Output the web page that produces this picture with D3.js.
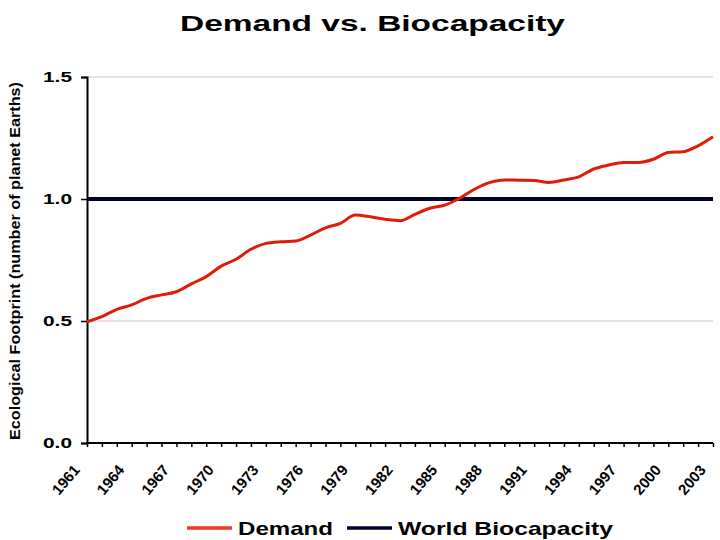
<!DOCTYPE html>
<html>
<head>
<meta charset="utf-8">
<script src="https://cdn.jsdelivr.net/npm/d3@7"></script>
<style>
  body { margin: 0; background: #fff; }
  text { font-family: "Liberation Sans", Arial, sans-serif; font-weight: bold; }
</style>
</head>
<body>
<script>
// data
var years = d3.range(1961, 2004);
var demand = [0.497, 0.518, 0.548, 0.566, 0.593, 0.607, 0.620, 0.652, 0.682, 0.725,
              0.753, 0.794, 0.818, 0.825, 0.828, 0.852, 0.882, 0.900, 0.934, 0.927,
              0.917, 0.911, 0.937, 0.962, 0.975, 1.003, 1.040, 1.067, 1.078, 1.077,
              1.076, 1.068, 1.078, 1.091, 1.123, 1.139, 1.150, 1.150, 1.163, 1.191,
              1.194, 1.218, 1.255];
var biocapacity = years.map(function(){ return 1.0; });
var yTicks = [0, 0.5, 1.0, 1.5];
var xLabels = d3.range(1961, 2004, 3);

var w = 720, h = 540;

var svg = d3.select("body").append("svg")
    .attr("width", w)
    .attr("height", h);

var x = d3.scalePoint()
    .domain(years)
    .range([87, 713]);

var y = d3.scaleLinear()
    .domain([0, 1.5])
    .range([443, 77]);

// title
svg.append("text")
    .attr("x", 180)
    .attr("y", 31)
    .attr("textLength", 385)
    .attr("lengthAdjust", "spacingAndGlyphs")
    .style("font-size", "22px")
    .text("Demand vs. Biocapacity");

// gridlines
svg.append("g")
    .selectAll("line")
    .data(yTicks.filter(function(d){ return d > 0; }))
    .enter()
    .append("line")
    .attr("x1", 87)
    .attr("x2", 713)
    .attr("y1", function(d){ return y(d); })
    .attr("y2", function(d){ return y(d); })
    .style("stroke", "#c8c8c8")
    .style("stroke-width", 1);

// y axis
var yAxis = d3.axisLeft(y)
    .tickValues(yTicks)
    .tickFormat(d3.format(".1f"))
    .tickSize(6)
    .tickPadding(9);

var gy = svg.append("g")
    .attr("transform", "translate(87,0)")
    .call(yAxis);
gy.select(".domain").style("stroke", "#000").style("stroke-width", 2);
gy.selectAll(".tick line").style("stroke", "#000").style("stroke-width", 1.5);
gy.selectAll(".tick text")
    .style("font-size", "14px")
    .style("font-family", "Liberation Sans, Arial, sans-serif")
    .style("font-weight", "bold")
    .attr("fill", "#000")
    .attr("x", -15)
    .attr("textLength", 29)
    .attr("lengthAdjust", "spacingAndGlyphs");

// x axis
var xAxis = d3.axisBottom(x)
    .tickSize(4)
    .tickFormat(function(d){ return xLabels.indexOf(d) >= 0 ? d : ""; });

var gx = svg.append("g")
    .attr("transform", "translate(0,443)")
    .call(xAxis);
gx.select(".domain").attr("d", "M86,0H713").style("stroke", "#000").style("stroke-width", 2);
gx.selectAll(".tick line").style("stroke", "#000").style("stroke-width", 1.5);
gx.selectAll(".tick text")
    .style("font-size", "15px")
    .style("font-family", "Liberation Sans, Arial, sans-serif")
    .style("font-weight", "bold")
    .attr("fill", "#000")
    .attr("text-anchor", "end")
    .attr("y", 0)
    .attr("dy", "0.35em")
    .attr("transform", "translate(-11,24) rotate(-50)");

// y axis title
svg.append("text")
    .attr("transform", "translate(20,261) rotate(-90)")
    .attr("text-anchor", "middle")
    .style("font-size", "15px")
    .attr("textLength", 358)
    .attr("lengthAdjust", "spacingAndGlyphs")
    .text("Ecological Footprint (number of planet Earths)");

// lines
var line = d3.line()
    .x(function(d, i){ return x(years[i]); })
    .y(function(d){ return y(d); });

svg.append("path")
    .datum(biocapacity)
    .attr("d", line)
    .style("fill", "none")
    .style("stroke", "#00002e")
    .style("stroke-width", 4);

svg.append("path")
    .datum(demand)
    .attr("d", line.curve(d3.curveMonotoneX))
    .style("fill", "none")
    .style("stroke", "#e01c08")
    .style("stroke-width", 3);

// legend
var legend = [
    { name: "Demand", color: "#f03a1a", x: 187, len: 95 },
    { name: "World Biocapacity", color: "#00002e", x: 347, len: 215 }
];
var lg = svg.selectAll(".legend")
    .data(legend)
    .enter()
    .append("g")
    .attr("class", "legend")
    .attr("transform", function(d){ return "translate(" + d.x + ",528)"; });
lg.append("line")
    .attr("x1", 0)
    .attr("x2", 45)
    .style("stroke", function(d){ return d.color; })
    .style("stroke-width", 3.5);
lg.append("text")
    .attr("x", 51)
    .attr("y", 7)
    .style("font-size", "19px")
    .attr("textLength", function(d){ return d.len; })
    .attr("lengthAdjust", "spacingAndGlyphs")
    .text(function(d){ return d.name; });
</script>
</body>
</html>
